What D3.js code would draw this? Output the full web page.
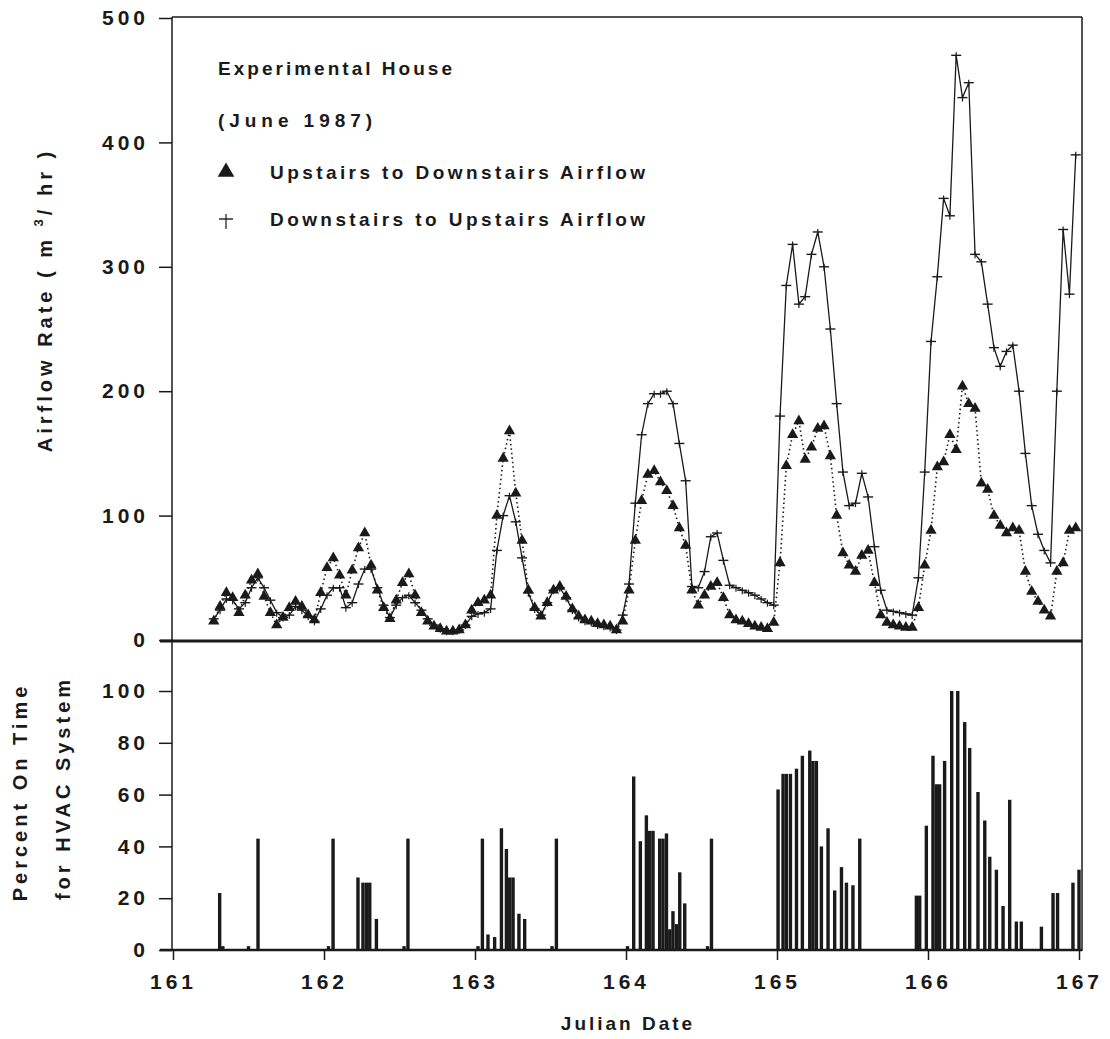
<!DOCTYPE html>
<html>
<head>
<meta charset="utf-8">
<script src="https://cdn.jsdelivr.net/npm/d3@7"></script>
<style>
  body { margin: 0; background: #fff; }
  text { font-family: "Liberation Sans", Arial, sans-serif; font-weight: bold; fill: #1a1a1a; }
</style>
</head>
<body>
<script>
// hourly samples, first one at Julian day 161.27
var startDay = 161.27;
var stepDay = 1 / 24;

// Upstairs to Downstairs airflow (m3/hr), triangles
var upToDown = [
    15, 27, 38, 34, 22, 36, 48, 53, 35, 22,
    12, 18, 26, 31, 27, 20, 16, 38, 58, 66,
    52, 36, 56, 74, 86, 60, 40, 26, 17, 32,
    46, 53, 36, 22, 15, 11, 9, 7, 7, 8,
    12, 24, 30, 32, 36, 100, 146, 168, 118, 80,
    40, 26, 19, 30, 40, 43, 35, 25, 19, 16,
    15, 13, 12, 11, 8, 15, 40, 80, 112, 133,
    136, 127, 120, 108, 90, 76, 40, 28, 36, 43,
    46, 34, 20, 16, 15, 13, 11, 10, 9, 14,
    62, 140, 165, 176, 145, 155, 170, 172, 148, 100,
    70, 60, 55, 68, 72, 46, 20, 14, 12, 11,
    10, 10, 26, 60, 88, 139, 143, 165, 153, 204,
    190, 186, 126, 121, 100, 92, 86, 90, 88, 55,
    39, 31, 24, 19, 55, 62, 88, 90
];

// Downstairs to Upstairs airflow (m3/hr), crosses
var downToUp = [
    17, 24, 33, 32, 25, 30, 42, 50, 42, 32,
    22, 18, 20, 27, 24, 19, 15, 25, 36, 42,
    42, 26, 30, 45, 57, 57, 42, 28, 18, 28,
    34, 36, 30, 24, 17, 12, 9, 7, 7, 8,
    12, 19, 21, 22, 25, 72, 100, 116, 95, 66,
    38, 25, 20, 30, 40, 42, 34, 24, 18, 15,
    14, 12, 11, 10, 8, 20, 45, 110, 165, 190,
    198, 198, 200, 190, 158, 128, 43, 42, 55, 83,
    86, 64, 44, 42, 40, 38, 36, 33, 30, 28,
    180, 285, 318, 270, 276, 310, 328, 300, 250, 190,
    135, 108, 110, 134, 115, 75, 40, 24, 23, 22,
    21, 20, 50, 135, 240, 292, 355, 341, 470, 436,
    448, 310, 304, 270, 235, 220, 232, 237, 200, 150,
    108, 85, 72, 62, 200, 330, 278, 390
];

// HVAC percent on time
var barDays = [
    161.309, 161.33, 161.50, 161.563, 162.03, 162.060, 162.225, 162.258, 162.281, 162.303,
    162.347, 162.53, 162.556, 163.02, 163.049, 163.086, 163.130, 163.175, 163.208, 163.230,
    163.252, 163.291, 163.329, 163.51, 163.539, 164.01, 164.051, 164.095, 164.135, 164.157,
    164.179, 164.223, 164.245, 164.268, 164.290, 164.311, 164.334, 164.356, 164.389, 164.54,
    164.566, 165.007, 165.040, 165.062, 165.089, 165.129, 165.168, 165.217, 165.238, 165.261,
    165.294, 165.338, 165.382, 165.427, 165.460, 165.503, 165.548, 165.923, 165.945, 165.989,
    166.033, 166.055, 166.077, 166.110, 166.157, 166.197, 166.243, 166.276, 166.331, 166.376,
    166.409, 166.453, 166.497, 166.541, 166.585, 166.618, 166.751, 166.828, 166.858, 166.960,
    167.0
];
var barPct = [
    22, 1.5, 1.5, 43, 1.5, 43, 28, 26, 26, 26,
    12, 1.5, 43, 1.5, 43, 6, 5, 47, 39, 28,
    28, 14, 12, 1.5, 43, 1.5, 67, 42, 52, 46,
    46, 43, 43, 45, 8, 15, 10, 30, 18, 1.5,
    43, 62, 68, 68, 68, 70, 75, 77, 73, 73,
    40, 47, 23, 32, 26, 25, 43, 21, 21, 48,
    75, 64, 64, 73, 100, 100, 88, 78, 61, 50,
    36, 31, 17, 58, 11, 11, 9, 22, 22, 26,
    31
];

var topTicks = [0, 100, 200, 300, 400, 500];
var bottomTicks = [0, 20, 40, 60, 80, 100];
var dayTicks = [161, 162, 163, 164, 165, 166, 167];

var width = 1110;
var height = 1039;

var svg = d3.select("body").append("svg")
    .attr("width", width)
    .attr("height", height);

var xScale = d3.scaleLinear().domain([161, 167]).range([173, 1079]);
var yTop = d3.scaleLinear().domain([0, 500]).range([640, 18]);
var yBottom = d3.scaleLinear().domain([0, 100]).range([950, 691]);

var ink = "#1a1a1a";

// frame
svg.append("line").attr("x1", 172).attr("x2", 1082).attr("y1", 17).attr("y2", 17)
    .attr("stroke", ink).attr("stroke-width", 1.5);
svg.append("line").attr("x1", 172).attr("x2", 172).attr("y1", 17).attr("y2", 951)
    .attr("stroke", ink).attr("stroke-width", 1.5);
svg.append("line").attr("x1", 1082).attr("x2", 1082).attr("y1", 17).attr("y2", 951)
    .attr("stroke", ink).attr("stroke-width", 1.5);
svg.append("line").attr("x1", 160).attr("x2", 1082).attr("y1", 641).attr("y2", 641)
    .attr("stroke", ink).attr("stroke-width", 3);
svg.append("line").attr("x1", 160).attr("x2", 1082).attr("y1", 950).attr("y2", 950)
    .attr("stroke", ink).attr("stroke-width", 2.5);

// axes
function styleAxis(g) {
    g.select(".domain").remove();
    g.selectAll(".tick line").attr("stroke", ink).attr("stroke-width", 1.5);
    g.selectAll(".tick text")
        .attr("font-size", "21px")
        .attr("letter-spacing", "4px")
        .attr("fill", ink);
}

svg.append("g")
    .attr("transform", "translate(172,0)")
    .call(d3.axisLeft(yTop).tickValues(topTicks).tickSize(13).tickPadding(10))
    .call(styleAxis);

svg.append("g")
    .attr("transform", "translate(172,0)")
    .call(d3.axisLeft(yBottom).tickValues(bottomTicks).tickSize(13).tickPadding(10))
    .call(styleAxis);

svg.append("g")
    .attr("transform", "translate(0,950)")
    .call(d3.axisBottom(xScale).tickValues(dayTicks).tickSize(10).tickPadding(14).tickFormat(d3.format("d")))
    .call(styleAxis);

// bars
svg.append("g").selectAll("rect")
    .data(barDays)
    .enter()
    .append("rect")
    .attr("x", function(d) { return xScale(d) - 1.7; })
    .attr("width", 3.4)
    .attr("y", function(d, i) { return yBottom(barPct[i]); })
    .attr("height", function(d, i) { return yBottom(0) - yBottom(barPct[i]); })
    .attr("fill", ink);

// airflow lines
function dayOf(i) { return startDay + i * stepDay; }

var lineDown = d3.line()
    .x(function(d, i) { return xScale(dayOf(i)); })
    .y(function(d) { return yTop(d); });

svg.append("path")
    .datum(downToUp)
    .attr("d", lineDown)
    .attr("fill", "none")
    .attr("stroke", ink)
    .attr("stroke-width", 1.3);

svg.append("path")
    .datum(upToDown)
    .attr("d", lineDown)
    .attr("fill", "none")
    .attr("stroke", ink)
    .attr("stroke-width", 1.6)
    .attr("stroke-dasharray", "1.5,3");

// cross markers
var crosses = svg.append("g").selectAll("g")
    .data(downToUp)
    .enter()
    .append("g")
    .attr("transform", function(d, i) {
        return "translate(" + xScale(dayOf(i)) + "," + yTop(d) + ")";
    });
crosses.append("line").attr("x1", -5).attr("x2", 5).attr("y1", 0).attr("y2", 0)
    .attr("stroke", ink).attr("stroke-width", 1.4);
crosses.append("line").attr("x1", 0).attr("x2", 0).attr("y1", -3).attr("y2", 4)
    .attr("stroke", ink).attr("stroke-width", 1.2);

// triangle markers
var tri = d3.symbol().type(d3.symbolTriangle).size(55);
svg.append("g").selectAll("path")
    .data(upToDown)
    .enter()
    .append("path")
    .attr("d", tri)
    .attr("transform", function(d, i) {
        return "translate(" + xScale(dayOf(i)) + "," + yTop(d) + ")";
    })
    .attr("fill", ink);

// legend and titles
svg.append("text").attr("x", 218).attr("y", 75)
    .attr("font-size", "19px").attr("textLength", 234).attr("lengthAdjust", "spacing")
    .text("Experimental House");
svg.append("text").attr("x", 218).attr("y", 127)
    .attr("font-size", "19px").attr("textLength", 154).attr("lengthAdjust", "spacing")
    .text("(June 1987)");

svg.append("path")
    .attr("d", d3.symbol().type(d3.symbolTriangle).size(120))
    .attr("transform", "translate(226,172)")
    .attr("fill", ink);
svg.append("text").attr("x", 270).attr("y", 179)
    .attr("font-size", "19px").attr("textLength", 375).attr("lengthAdjust", "spacing")
    .text("Upstairs to Downstairs Airflow");

svg.append("line").attr("x1", 219).attr("x2", 233).attr("y1", 219).attr("y2", 219)
    .attr("stroke", ink).attr("stroke-width", 1.4);
svg.append("line").attr("x1", 226).attr("x2", 226).attr("y1", 214).attr("y2", 229)
    .attr("stroke", ink).attr("stroke-width", 1.2);
svg.append("text").attr("x", 270).attr("y", 226)
    .attr("font-size", "19px").attr("textLength", 375).attr("lengthAdjust", "spacing")
    .text("Downstairs to Upstairs Airflow");

var yTitle = svg.append("text")
    .attr("transform", "translate(52,300) rotate(-90)")
    .attr("text-anchor", "middle")
    .attr("font-size", "20px")
    .attr("letter-spacing", "4px");
yTitle.append("tspan").text("Airflow Rate ( m ");
yTitle.append("tspan").attr("font-size", "13px").attr("dy", -9).text("3");
yTitle.append("tspan").attr("dy", 9).text("/ hr )");

svg.append("text")
    .attr("transform", "translate(27,792) rotate(-90)")
    .attr("text-anchor", "middle")
    .attr("font-size", "20px")
    .attr("letter-spacing", "4px")
    .text("Percent On Time");
svg.append("text")
    .attr("transform", "translate(70,788) rotate(-90)")
    .attr("text-anchor", "middle")
    .attr("font-size", "20px")
    .attr("letter-spacing", "4px")
    .text("for HVAC System");

svg.append("text")
    .attr("x", 628).attr("y", 1030)
    .attr("text-anchor", "middle")
    .attr("font-size", "19px")
    .attr("letter-spacing", "3px")
    .text("Julian Date");
</script>
</body>
</html>
